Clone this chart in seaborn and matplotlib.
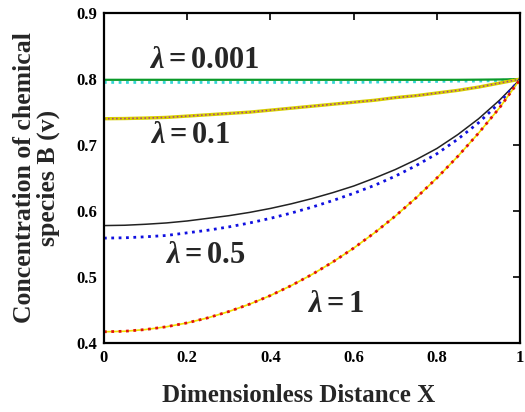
"""
Concentration of chemical species B versus dimensionless distance X
for several values of lambda (analytic lines and numerical dots).
"""

import pandas as pd
import seaborn as sns
import matplotlib
matplotlib.use("Agg")
import matplotlib.pyplot as plt

# x positions
x_vals = [0.0, 0.05, 0.1, 0.15, 0.2, 0.25, 0.3, 0.35, 0.4, 0.45, 0.5,
          0.55, 0.6, 0.65, 0.7, 0.75, 0.8, 0.85, 0.9, 0.95, 1.0]

# lambda = 0.001
lam0001_line = [0.799, 0.799, 0.799, 0.799, 0.799, 0.799, 0.799, 0.799, 0.799, 0.799, 0.799,
                0.799, 0.799, 0.799, 0.799, 0.799, 0.799, 0.799, 0.7992, 0.7995, 0.800]
lam0001_dots = [0.795, 0.795, 0.795, 0.795, 0.795, 0.795, 0.795, 0.795, 0.795, 0.795, 0.795,
                0.795, 0.795, 0.7955, 0.796, 0.796, 0.7965, 0.797, 0.797, 0.798, 0.800]
# lambda = 0.1
lam01_line = [0.740, 0.7403, 0.741, 0.742, 0.744, 0.746, 0.748, 0.750, 0.753, 0.756, 0.759,
              0.762, 0.765, 0.768, 0.772, 0.775, 0.779, 0.783, 0.788, 0.794, 0.800]
lam01_dots = [0.740, 0.7403, 0.741, 0.742, 0.744, 0.746, 0.748, 0.750, 0.753, 0.756, 0.759,
              0.762, 0.765, 0.768, 0.772, 0.775, 0.779, 0.783, 0.788, 0.794, 0.800]
# lambda = 0.5
lam05_line = [0.578, 0.5785, 0.580, 0.582, 0.585, 0.589, 0.593, 0.598, 0.604, 0.611, 0.619,
              0.628, 0.638, 0.650, 0.663, 0.678, 0.695, 0.716, 0.740, 0.768, 0.800]
lam05_dots = [0.559, 0.5595, 0.561, 0.563, 0.567, 0.571, 0.576, 0.582, 0.589, 0.597, 0.606,
              0.616, 0.627, 0.639, 0.653, 0.669, 0.687, 0.709, 0.734, 0.764, 0.800]
# lambda = 1
lam1_line = [0.417, 0.4178, 0.4204, 0.4246, 0.4305, 0.4382, 0.4477, 0.4589, 0.472, 0.4871, 0.504,
             0.5229, 0.5439, 0.5671, 0.5925, 0.6202, 0.6503, 0.683, 0.7183, 0.7564, 0.800]
lam1_dots = [0.417, 0.4178, 0.4204, 0.4246, 0.4305, 0.4382, 0.4477, 0.4589, 0.472, 0.4871, 0.504,
             0.5229, 0.5439, 0.5671, 0.5925, 0.6202, 0.6503, 0.683, 0.7183, 0.7564, 0.800]

lambda_labels = [r'$\lambda = 0.001$', r'$\lambda = 0.1$', r'$\lambda = 0.5$', r'$\lambda = 1$']
label_pos = [(0.24, 0.829), (0.207, 0.714), (0.243, 0.533), (0.557, 0.459)]

x_ticks = [0, 0.2, 0.4, 0.6, 0.8, 1]
x_tick_labels = ['0', '0.2', '0.4', '0.6', '0.8', '1']
y_ticks = [0.4, 0.5, 0.6, 0.7, 0.8, 0.9]
y_tick_labels = ['0.4', '0.5', '0.6', '0.7', '0.8', '0.9']

sns.set_style('white')
plt.rcParams['font.family'] = ['Liberation Serif', 'DejaVu Serif']
plt.rcParams['font.weight'] = 'bold'
plt.rcParams['mathtext.fontset'] = 'custom'
plt.rcParams['mathtext.rm'] = 'Liberation Serif:bold'
plt.rcParams['mathtext.bf'] = 'Liberation Serif:bold'
plt.rcParams['mathtext.it'] = 'Liberation Serif:italic:bold'

fig = plt.figure(figsize=(5.25, 4.12), dpi=100)
ax = fig.add_axes([0.198, 0.1675, 0.793, 0.8005])

# (data, colour, linestyle, linewidth)
series = [
    (lam0001_dots, '#33d6d6', ':', 2.0),
    (lam0001_line, '#0a9a2a', '-', 1.6),
    (lam01_line, '#d8d000', '-', 2.4),
    (lam01_dots, '#a03a90', ':', 1.1),
    (lam05_line, '#222222', '-', 1.1),
    (lam05_dots, '#1010e0', ':', 2.0),
    (lam1_line, '#f0e000', '-', 1.2),
    (lam1_dots, '#e01010', ':', 2.0),
]

for vals, col, ls, lw in series:
    df = pd.DataFrame({'X': x_vals, 'v': vals})
    sns.lineplot(data=df, x='X', y='v', color=col, linestyle=ls, linewidth=lw, ax=ax)

for txt, (tx, ty) in zip(lambda_labels, label_pos):
    ax.text(tx, ty, txt, fontsize=22, ha='center', va='center')

ax.set_xlim(0, 1)
ax.set_ylim(0.4, 0.9)
ax.set_xticks(x_ticks)
ax.set_xticklabels(x_tick_labels)
ax.set_yticks(y_ticks)
ax.set_yticklabels(y_tick_labels)
ax.tick_params(direction='in', length=5, width=1.2, top=True, right=True,
               labelsize=12, pad=5, colors='black')
for sp in ax.spines.values():
    sp.set_visible(True)
    sp.set_linewidth(1.6)
    sp.set_color('black')

ax.set_xlabel('')
ax.set_ylabel('')
fig.text(0.568, 0.039, 'Dimensionless Distance X', fontsize=18, fontweight='bold',
         ha='center', va='center')
fig.text(0.069, 0.568, 'Concentration of chemical\nspecies B (v)', fontsize=18.5,
         fontweight='bold', ha='center', va='center', rotation=90, linespacing=1.05)

fig.savefig('out.png', dpi=100)
